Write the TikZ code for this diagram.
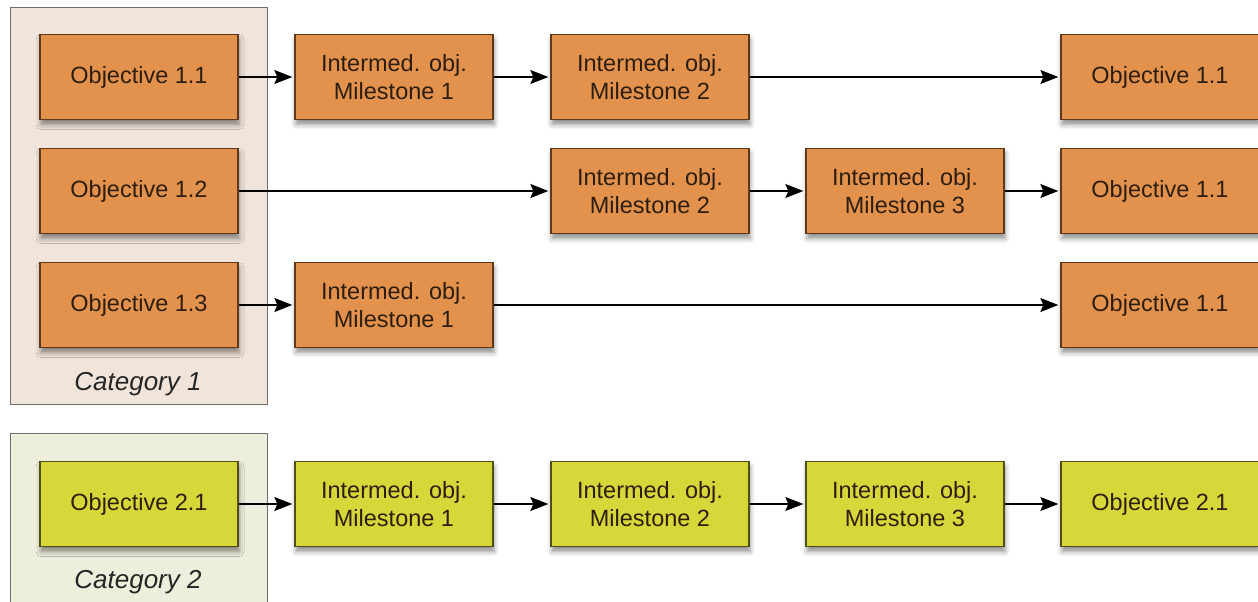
\documentclass[tikz,border=0pt]{standalone}
\usepackage{fontspec}
\setmainfont{Liberation Sans}
\usetikzlibrary{shadows,shadows.blur,arrows.meta}
\definecolor{orangefill}{RGB}{226,146,76}
\definecolor{orangeedge}{RGB}{95,55,25}
\definecolor{yellowfill}{RGB}{214,216,58}
\definecolor{yellowedge}{RGB}{80,80,20}
\definecolor{catone}{RGB}{241,229,219}
\definecolor{cattwo}{RGB}{238,238,220}
\definecolor{catedge}{RGB}{110,110,110}
\definecolor{textdark}{RGB}{45,30,15}
\begin{document}
\begin{tikzpicture}[x=1pt,y=-1pt,
  box/.style={draw, line width=1.3pt, minimum width=198pt, minimum height=85pt,
    inner sep=0pt, align=center, font=\fontsize{23.5}{28}\selectfont, text=textdark,
    blur shadow={shadow xshift=1pt, shadow yshift=-5pt, shadow blur radius=5pt, shadow opacity=45}},
  obox/.style={box, fill=orangefill, draw=orangeedge},
  ybox/.style={box, fill=yellowfill, draw=yellowedge},
  cat/.style={draw=catedge, line width=1pt},
  catlabel/.style={font=\fontsize{26}{30}\selectfont\itshape, text=black!85},
  link/.style={-{Stealth[length=18pt,width=14pt,inset=3pt]}, line width=1.3pt, shorten >=2pt}]
\useasboundingbox (0,0) rectangle (1258,602);
% categories
\draw[cat, fill=catone] (10,8) rectangle (267,404);
\draw[cat, fill=cattwo] (10,433) rectangle (267,610);
\node[catlabel] (c1) at (138,384) {Category 1};
\node[catlabel] (c2) at (138,582) {Category 2};
% row 1
\node[obox] (o11) at (139,77) {Objective 1.1};
\node[obox] (r1a) at (394,77) {Intermed. obj.\\Milestone 1};
\node[obox] (r1b) at (650,77) {Intermed. obj.\\Milestone 2};
\node[obox] (r1f) at (1160,77) {Objective 1.1};
% row 2
\node[obox] (o12) at (139,191) {Objective 1.2};
\node[obox] (r2b) at (650,191) {Intermed. obj.\\Milestone 2};
\node[obox] (r2c) at (905,191) {Intermed. obj.\\Milestone 3};
\node[obox] (r2f) at (1160,191) {Objective 1.1};
% row 3
\node[obox] (o13) at (139,305) {Objective 1.3};
\node[obox] (r3a) at (394,305) {Intermed. obj.\\Milestone 1};
\node[obox] (r3f) at (1160,305) {Objective 1.1};
% row 4
\node[ybox] (o21) at (139,504) {Objective 2.1};
\node[ybox] (r4a) at (394,504) {Intermed. obj.\\Milestone 1};
\node[ybox] (r4b) at (650,504) {Intermed. obj.\\Milestone 2};
\node[ybox] (r4c) at (905,504) {Intermed. obj.\\Milestone 3};
\node[ybox] (r4f) at (1160,504) {Objective 2.1};
% links
\draw[link] (o11) -- (r1a);
\draw[link] (r1a) -- (r1b);
\draw[link] (r1b) -- (r1f);
\draw[link] (o12) -- (r2b);
\draw[link] (r2b) -- (r2c);
\draw[link] (r2c) -- (r2f);
\draw[link] (o13) -- (r3a);
\draw[link] (r3a) -- (r3f);
\draw[link] (o21) -- (r4a);
\draw[link] (r4a) -- (r4b);
\draw[link] (r4b) -- (r4c);
\draw[link] (r4c) -- (r4f);
\end{tikzpicture}
\end{document}
